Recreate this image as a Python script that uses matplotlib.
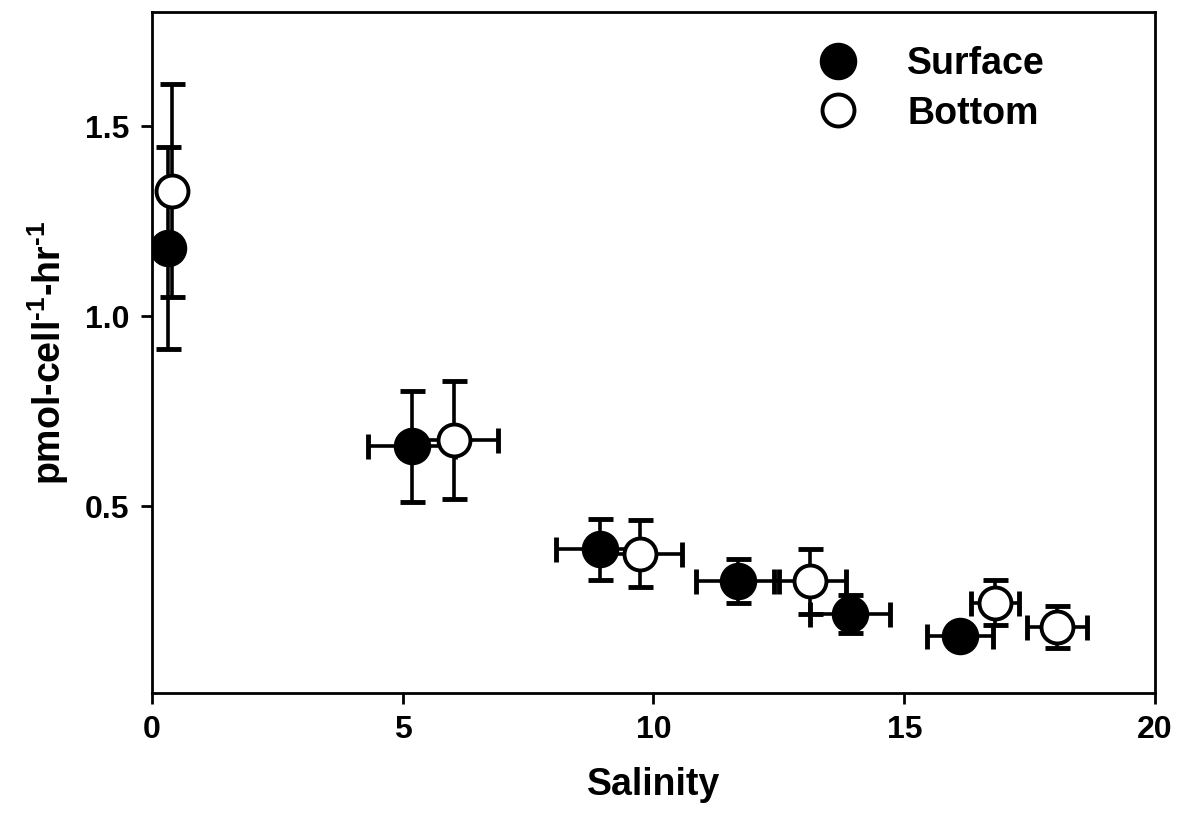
import matplotlib
matplotlib.use('Agg')

import matplotlib.pyplot as plt
from matplotlib.lines import Line2D

plt.rcParams['font.family'] = ['Liberation Sans', 'DejaVu Sans']
plt.rcParams['font.weight'] = 'bold'
plt.rcParams['mathtext.fontset'] = 'custom'
plt.rcParams['mathtext.rm'] = 'Liberation Sans:bold'
plt.rcParams['mathtext.bf'] = 'Liberation Sans:bold'
plt.rcParams['mathtext.default'] = 'bf'

# Surface samples
surf_sal = [0.32, 5.18, 8.93, 11.68, 13.92, 16.11]
surf_sal_err = [0.0, 0.87, 0.87, 0.83, 0.80, 0.66]
surf_rate = [1.18, 0.658, 0.387, 0.303, 0.216, 0.158]
surf_rate_err = [0.265, 0.147, 0.08, 0.058, 0.05, 0.02]

# Bottom samples
bot_sal = [0.40, 6.02, 9.73, 13.12, 16.81, 18.05]
bot_sal_err = [0.0, 0.88, 0.84, 0.72, 0.48, 0.60]
bot_rate = [1.33, 0.674, 0.376, 0.303, 0.247, 0.182]
bot_rate_err = [0.28, 0.155, 0.088, 0.085, 0.06, 0.055]

fig = plt.figure(figsize=(11.86, 8.15), dpi=100)
ax = fig.add_axes([0.128, 0.150, 0.846, 0.835])

err_kw = dict(fmt='none', ecolor='black', elinewidth=2.6, capsize=9, capthick=3.5)

# surface: bars then markers
ax.errorbar(surf_sal, surf_rate, xerr=surf_sal_err, yerr=surf_rate_err, zorder=2, **err_kw)
ax.plot(surf_sal, surf_rate, 'o', markersize=26, markerfacecolor='black',
        markeredgecolor='black', zorder=3)
# bottom drawn on top
ax.errorbar(bot_sal, bot_rate, xerr=bot_sal_err, yerr=bot_rate_err, zorder=4, **err_kw)
ax.plot(bot_sal, bot_rate, 'o', markersize=23, markerfacecolor='white',
        markeredgecolor='black', markeredgewidth=2.8, zorder=5)

ax.set_xlim(0, 20)
ax.set_ylim(0.01, 1.80)
ax.set_xticks([0, 5, 10, 15, 20])
ax.set_yticks([0.5, 1.0, 1.5])
ax.set_yticklabels(['0.5', '1.0', '1.5'])

ax.tick_params(direction='out', length=8, width=2, labelsize=23, pad=8)
for lbl in ax.get_xticklabels() + ax.get_yticklabels():
    lbl.set_fontweight('bold')
for side in ['left', 'right', 'top', 'bottom']:
    ax.spines[side].set_linewidth(2)
ax.tick_params(top=False, right=False)

ax.set_xlabel('Salinity', fontsize=27, fontweight='bold', labelpad=16)
ax.set_ylabel(r'pmol-cell$^{\text{-1}}$-hr$^{\text{-1}}$', fontsize=27,
              fontweight='bold', labelpad=10)

handles = [
    Line2D([], [], marker='o', linestyle='none', markersize=26,
           markerfacecolor='black', markeredgecolor='black'),
    Line2D([], [], marker='o', linestyle='none', markersize=23,
           markerfacecolor='white', markeredgecolor='black', markeredgewidth=2.8),
]
ax.legend(handles, ['Surface', 'Bottom'], loc='upper right',
          bbox_to_anchor=(0.92, 0.995), frameon=False,
          prop={'size': 27, 'weight': 'bold'}, handletextpad=0.84,
          labelspacing=0.37, borderpad=0.3)

fig.savefig('out.png', dpi=100)
